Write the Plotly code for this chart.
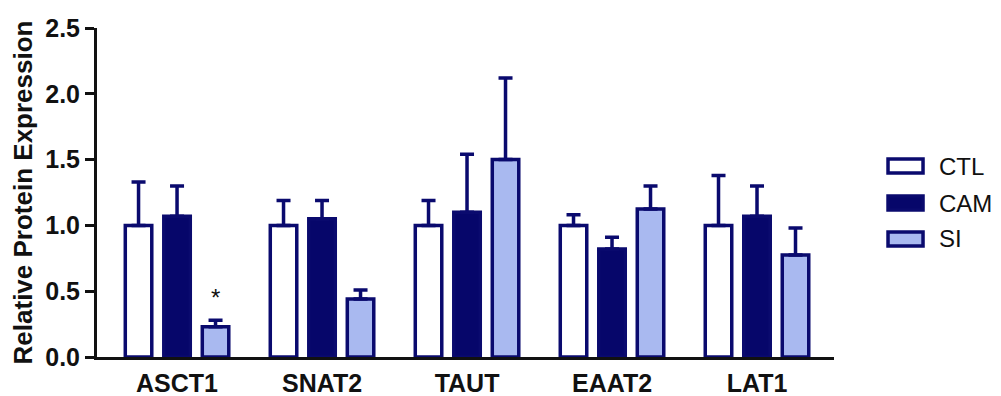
import plotly.graph_objects as go

categories = ["ASCT1", "SNAT2", "TAUT", "EAAT2", "LAT1"]
groups = ["CTL", "CAM", "SI"]
ctl_vals = [1.00, 1.00, 1.00, 1.00, 1.00]
ctl_err = [0.33, 0.19, 0.19, 0.08, 0.38]
cam_vals = [1.07, 1.05, 1.10, 0.82, 1.07]
cam_err = [0.23, 0.14, 0.44, 0.09, 0.23]
si_vals = [0.23, 0.44, 1.50, 1.125, 0.775]
si_err = [0.05, 0.07, 0.62, 0.175, 0.205]
y_ticks = [0.0, 0.5, 1.0, 1.5, 2.0, 2.5]
sig_label = "*"

NAVY = "#0a0a6e"
CAM_FILL = "#06066a"
SI_FILL = "#a9b9f0"
FONT = "Liberation Sans, Arial, sans-serif"

fills = ["#ffffff", CAM_FILL, SI_FILL]
vals = [ctl_vals, cam_vals, si_vals]
errs = [ctl_err, cam_err, si_err]

fig = go.Figure()
for name, v, e, fc in zip(groups, vals, errs, fills):
    fig.add_trace(go.Bar(
        x=categories, y=v, name=name,
        marker=dict(color=fc, line=dict(color=NAVY, width=3.5)),
        error_y=dict(type="data", symmetric=False, array=e,
                     arrayminus=[0] * len(e), color=NAVY,
                     thickness=3.5, width=7),
        showlegend=False,
    ))

# significance marker above ASCT1 SI bar
fig.add_annotation(x=categories[0], y=si_vals[0] + si_err[0] + 0.17,
                   text=sig_label, showarrow=False, xshift=38.5,
                   yanchor="middle",
                   font=dict(family=FONT, size=24, color="#111111"))

# custom legend (wide swatches)
leg_y = [0.5805, 0.468, 0.3587]
for name, fc, yy in zip(groups, fills, leg_y):
    fig.add_shape(type="rect", xref="paper", yref="paper",
                  x0=1.0733, x1=1.1208, y0=yy - 0.021, y1=yy + 0.021,
                  line=dict(color=NAVY, width=3.5), fillcolor=fc)
    fig.add_annotation(xref="paper", yref="paper", x=1.140, y=yy,
                       text=name, showarrow=False, xanchor="left",
                       yanchor="middle",
                       font=dict(family=FONT, size=24, color="#111111"))

fig.update_layout(
    width=1001, height=396,
    margin=dict(l=97, r=167, t=28, b=39),
    paper_bgcolor="white", plot_bgcolor="white",
    barmode="group", bargap=0.2034, bargroupgap=0.312,
    font=dict(family=FONT, color="#111111"),
)
fig.update_xaxes(
    range=[-0.552, 4.531], showline=True, linecolor="#111111", linewidth=3,
    ticks="", showgrid=False, zeroline=False, automargin=False,
    ticklabelstandoff=2,
    tickfont=dict(family=FONT, size=25, color="#111111", weight=700),
)
fig.update_yaxes(
    range=[0, 2.5], tickvals=y_ticks, tickformat=".1f",
    showline=True, linecolor="#111111", linewidth=3,
    ticks="outside", ticklen=9, tickwidth=3, tickcolor="#111111",
    showgrid=False, zeroline=False, automargin=False,
    tickfont=dict(family=FONT, size=25, color="#111111", weight=700),
    title=dict(text="Relative Protein Expression", standoff=6,
               font=dict(family=FONT, size=26, color="#111111", weight=700)),
)

fig.write_html("out.html",
               config={"displayModeBar": False},
               post_script="document.body.style.margin='0';"
                           "document.body.style.overflow='hidden';")
